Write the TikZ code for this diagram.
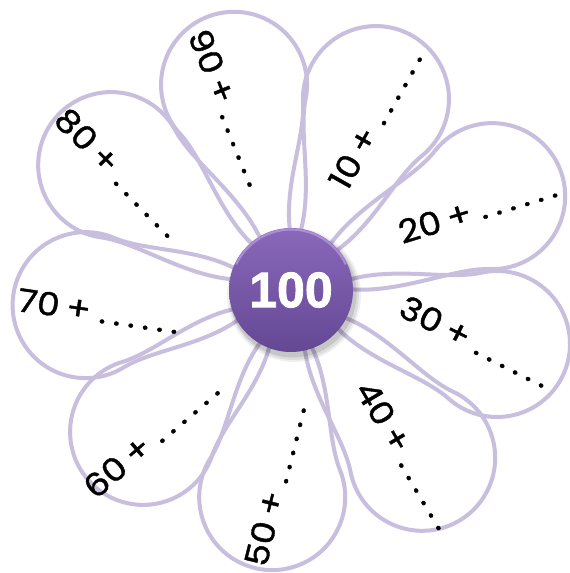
\documentclass[tikz,border=0pt]{standalone}
\usepackage{fontspec}
\usetikzlibrary{calc}
\newfontfamily\lblfont{Poppins}[FakeBold=1.2,FakeStretch=1.12]
\newfontfamily\numfont{Liberation Sans}[BoldFeatures={FakeBold=1.6}]
\definecolor{petalc}{RGB}{200,190,222}
\definecolor{ctop}{RGB}{138,104,186}
\definecolor{cbot}{RGB}{100,72,148}
\definecolor{crim}{RGB}{185,160,225}
\newcommand\dotrow{.\hspace{7pt}.\hspace{7pt}.\hspace{7pt}.\hspace{7pt}.\hspace{7pt}.}
\newcommand\lbltext[1]{#1\hspace{7pt}+\hspace{9pt}\dotrow}
\begin{document}
\begin{tikzpicture}[x=1pt,y=1pt,
  petal/.style={draw=petalc, line width=4pt},
  lbl/.style={font=\lblfont\fontsize{32}{32}\selectfont, inner sep=0pt, text=black}]
\useasboundingbox (0,0) rectangle (570,-573);
\fill[white] (0,0) rectangle (570,-573);
\coordinate (C) at (291,-290);
\foreach \ang/\d in {105.5/213, 66/209, 25/222, -14.7/213, -52/213, -95.2/208, -136.2/205, -175.8/206, 145.2/219} {
  \begin{scope}[shift={(C)}, rotate=\ang]
    \draw[petal] (25,0) .. controls (65,50) and ({\d-74},45) .. ({\d-34.3},64.5)
      arc[start angle=118, end angle=-118, radius=73]
      .. controls ({\d-74},-45) and (65,-50) .. (25,0);
  \end{scope}
}
% centre button
\fill[black, opacity=0.06] (294,-295) circle (67);
\fill[black, opacity=0.08] (294,-295) circle (65);
\fill[black, opacity=0.10] (293,-294) circle (63.5);
\shade[top color=ctop, bottom color=cbot] (C) circle (62);
\draw[crim, line width=2.2pt, opacity=0.7] ($(C)+(155:60.5)$) arc[start angle=155, end angle=25, radius=60.5];
\node[text=white, font=\numfont\bfseries\fontsize{50}{50}\selectfont, inner sep=0pt] (hund) at (C) {100};
% labels
\node[lbl, rotate=60.6] (l10) at (375,-119) {\lbltext{10}};
\node[lbl, rotate=17] (l20) at (477.5,-209) {\lbltext{20}};
\node[lbl, rotate=-26.7] (l30) at (475.5,-341.5) {\lbltext{30}};
\node[lbl, rotate=-59.3] (l40) at (406.5,-455) {\lbltext{40}};
\node[lbl, rotate=76] (l50) at (275,-485) {\lbltext{50}};
\node[lbl, rotate=40.7] (l60) at (151,-437.5) {\lbltext{60}};
\node[lbl, rotate=-8.2] (l70) at (98.5,-311) {\lbltext{70}};
\node[lbl, rotate=-45.5] (l80) at (118.5,-172.5) {\lbltext{80}};
\node[lbl, rotate=-68] (l90) at (229,-107.5) {\lbltext{90}};
\end{tikzpicture}
\end{document}
